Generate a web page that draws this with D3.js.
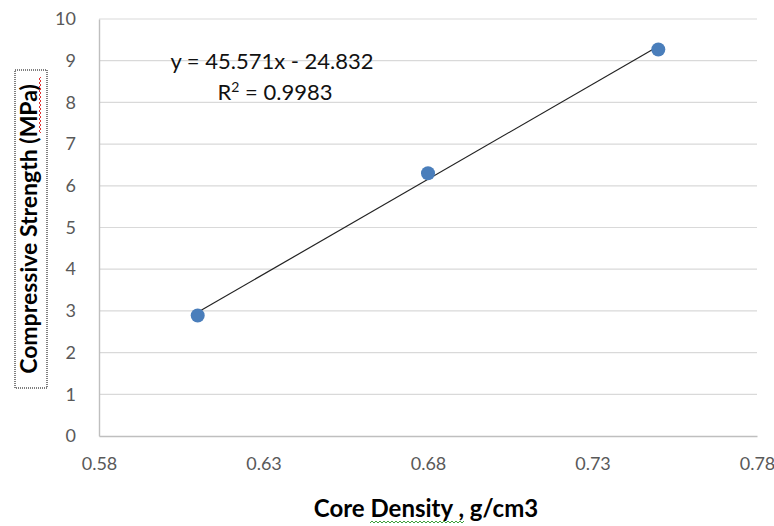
<!DOCTYPE html>
<html>
<head>
<meta charset="utf-8">
<script src="https://cdn.jsdelivr.net/npm/d3@7"></script>
<style>
  body { margin: 0; background: #fff; }
  svg { display: block; font-family: Lato, "Open Sans", sans-serif; }
</style>
</head>
<body>
<div id="chart"></div>
<script>
// data
var density = [0.61, 0.68, 0.75];
var strength = [2.89, 6.3, 9.27];
var xTicks = [0.58, 0.63, 0.68, 0.73, 0.78];
var yTicks = [0, 1, 2, 3, 4, 5, 6, 7, 8, 9, 10];
var slope = 45.571, intercept = -24.832, r2 = 0.9983;

var width = 774, height = 526;
var margin = {left: 99, right: 17, top: 19, bottom: 91};

var svg = d3.select("#chart").append("svg")
    .attr("width", width)
    .attr("height", height);

var x = d3.scaleLinear().domain([0.58, 0.78]).range([margin.left, width - margin.right]);
var y = d3.scaleLinear().domain([0, 10]).range([height - margin.bottom + 1, margin.top]);

// horizontal gridlines
svg.append("g").selectAll("line.grid")
    .data(yTicks.slice(1))
    .enter().append("line")
    .attr("class", "grid")
    .attr("x1", x(0.58)).attr("x2", x(0.78))
    .attr("y1", function(d) { return y(d); })
    .attr("y2", function(d) { return y(d); })
    .attr("stroke", "#d9d9d9").attr("stroke-width", 1.2);

// axes
var xAxis = svg.append("g")
    .attr("transform", "translate(0," + y(0) + ")")
    .call(d3.axisBottom(x).tickValues(xTicks).tickSize(0).tickPadding(21)
          .tickFormat(d3.format(".2f")));
var yAxis = svg.append("g")
    .attr("transform", "translate(" + x(0.58) + ",0)")
    .call(d3.axisLeft(y).tickValues(yTicks).tickSize(0).tickPadding(23));

[xAxis, yAxis].forEach(function(a) {
    a.select(".domain").attr("stroke", "#bfbfbf").attr("stroke-width", 1.4);
    a.selectAll("text").attr("fill", "#595959").style("font-size", "18px")
        .style("font-family", "Lato, 'Open Sans', sans-serif");
});

// trendline
svg.append("line")
    .attr("x1", x(density[0])).attr("y1", y(slope * density[0] + intercept))
    .attr("x2", x(density[2])).attr("y2", y(slope * density[2] + intercept))
    .attr("stroke", "#222").attr("stroke-width", 1.2);

// points
svg.append("g").selectAll("circle")
    .data(density)
    .enter().append("circle")
    .attr("cx", function(d) { return x(d); })
    .attr("cy", function(d, i) { return y(strength[i]); })
    .attr("r", 7)
    .attr("fill", "#4a7ebb");

// equation
svg.append("text")
    .attr("x", 272).attr("y", 69)
    .attr("text-anchor", "middle")
    .style("font-size", "22px").attr("fill", "#111")
    .text("y = " + slope + "x - " + Math.abs(intercept));
var rt = svg.append("text")
    .attr("x", 275).attr("y", 100)
    .attr("text-anchor", "middle")
    .style("font-size", "22px").attr("fill", "#111");
rt.append("tspan").text("R");
rt.append("tspan").attr("dy", -8).style("font-size", "14px").text("2");
rt.append("tspan").attr("dy", 8).text(" = " + r2);

// x title
svg.append("text")
    .attr("x", 426).attr("y", 517)
    .attr("text-anchor", "middle")
    .style("font-size", "24px").style("font-weight", "bold").attr("fill", "#000")
    .text("Core Density , g/cm3");

// green squiggle under "Density ,"
function squiggle(x0, x1, yy) {
    var p = "M" + x0 + "," + yy;
    var up = true;
    for (var xx = x0 + 2; xx <= x1; xx += 2) {
        p += "L" + xx + "," + (up ? yy - 2 : yy);
        up = !up;
    }
    return p;
}
svg.append("path").attr("d", squiggle(370, 465, 523))
    .attr("fill", "none").attr("stroke", "#3ca03c").attr("stroke-width", 1);

// y title with dotted box
var yt = svg.append("g").attr("transform", "translate(31,229) rotate(-90)");
yt.append("rect")
    .attr("x", -159).attr("y", -16).attr("width", 318).attr("height", 32)
    .attr("fill", "none").attr("stroke", "#000").attr("stroke-width", 1)
    .attr("stroke-dasharray", "1,1");
yt.append("text")
    .attr("x", 0).attr("y", 6)
    .attr("text-anchor", "middle")
    .style("font-size", "23px").style("font-weight", "bold").attr("fill", "#000")
    .text("Compressive Strength (MPa)");
yt.append("path").attr("d", squiggle(96, 152, 10))
    .attr("fill", "none").attr("stroke", "#e03030").attr("stroke-width", 1);
</script>
</body>
</html>
